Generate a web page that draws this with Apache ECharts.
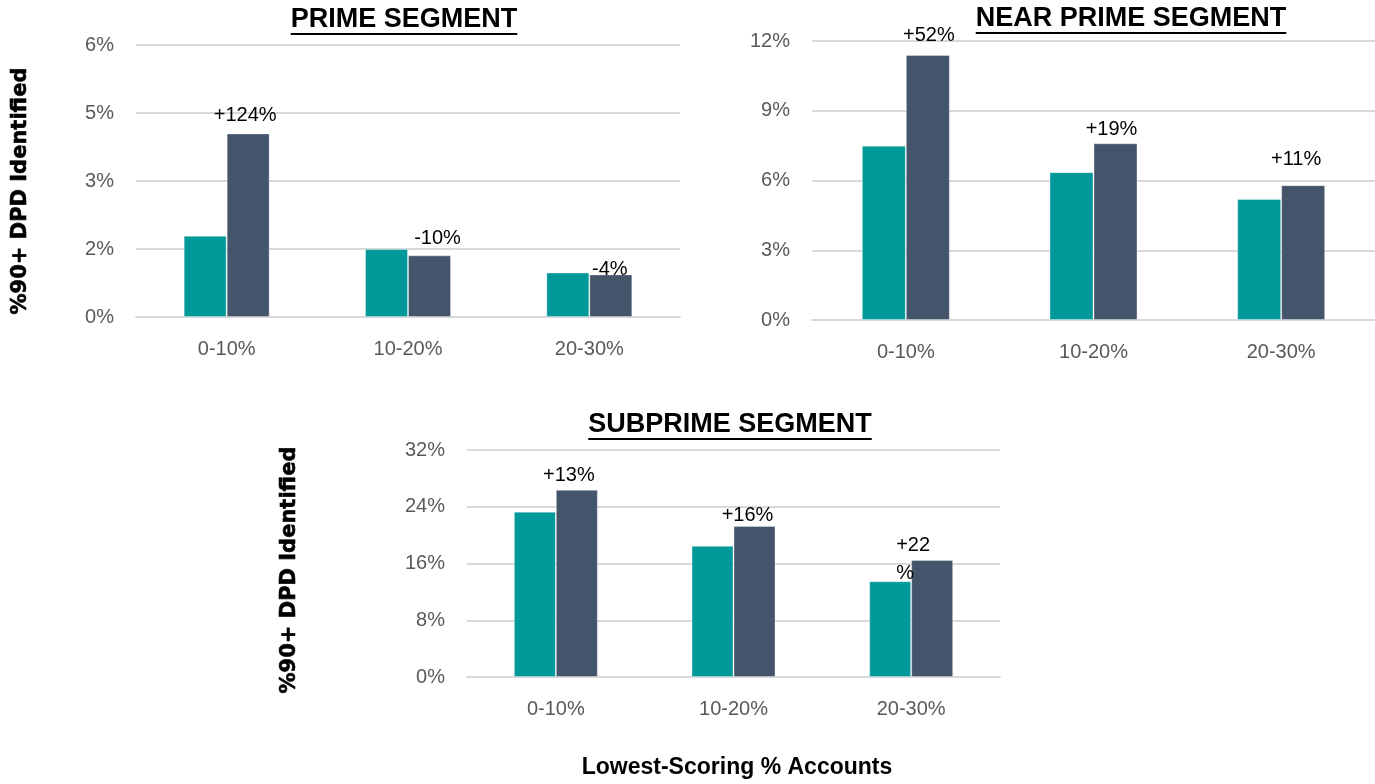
<!DOCTYPE html>
<html>
<head>
<meta charset="utf-8">
<script src="https://cdn.jsdelivr.net/npm/echarts@6/dist/echarts.min.js"></script>
<style>
  html, body { margin: 0; padding: 0; background: #fff; }
  #chart { width: 1375px; height: 784px; }
</style>
</head>
<body>
<div id="chart"></div>
<script>
// categories
var categories = ['0-10%', '10-20%', '20-30%'];

// % of 90+ DPD identified
var primeBase = [1.79, 1.50, 0.98];
var primeModel = [4.05, 1.36, 0.94];
var nearBase = [7.50, 6.36, 5.20];
var nearModel = [11.40, 7.60, 5.80];
var subBase = [23.3, 18.5, 13.5];
var subModel = [26.4, 21.3, 16.5];

// labels over the dark bars
var primeChange = ['+124%', '-10%', '-4%'];
var nearChange = ['+52%', '+19%', '+11%'];
var subChange = ['+13%', '+16%', '+22\n%'];

// tick labels
var primeTicks = ['0%', '2%', '3%', '5%', '6%'];
var nearTicks = ['0%', '3%', '6%', '9%', '12%'];
var subTicks = ['0%', '8%', '16%', '24%', '32%'];

var TEAL = '#009999';
var SLATE = '#44546A';
var GRID = '#D9D9D9';

// label nudges [dx, dy] per chart / category
var labelOffsets = [
  [[-3, -3], [8, -2], [-1, 10]],
  [[1, -4], [-4, 1], [-7, -11]],
  [[-8, 1], [-7, 5], [-36, 33]]
];

var panels = [
  { grid: { left: 136, top: 45, width: 544, height: 272 }, max: 6, interval: 1.5, ticks: primeTicks, base: primeBase, model: primeModel, change: primeChange, barWidth: 43 },
  { grid: { left: 812, top: 41, width: 564, height: 279 }, max: 12, interval: 3, ticks: nearTicks, base: nearBase, model: nearModel, change: nearChange, barWidth: 44 },
  { grid: { left: 467, top: 450, width: 533, height: 227 }, max: 32, interval: 8, ticks: subTicks, base: subBase, model: subModel, change: subChange, barWidth: 42 }
];

var grids = [], xAxes = [], yAxes = [], series = [];
panels.forEach(function (p, i) {
  grids.push(p.grid);
  xAxes.push({
    type: 'category',
    gridIndex: i,
    data: categories,
    axisTick: { show: false },
    axisLine: { lineStyle: { color: GRID, width: 2 } },
    axisLabel: { color: '#595959', fontFamily: 'Liberation Sans', fontSize: 20, margin: 22 }
  });
  yAxes.push({
    type: 'value',
    gridIndex: i,
    min: 0,
    max: p.max,
    interval: p.interval,
    axisLine: { show: false },
    axisTick: { show: false },
    splitLine: { lineStyle: { color: GRID, width: 2 } },
    axisLabel: {
      color: '#595959', fontFamily: 'Liberation Sans', fontSize: 20, margin: 22,
      formatter: function (v, idx) { return p.ticks[idx]; }
    }
  });
  series.push({
    name: 'Baseline',
    type: 'bar',
    xAxisIndex: i,
    yAxisIndex: i,
    barWidth: p.barWidth,
    barGap: '0%',
    itemStyle: { color: TEAL, borderColor: 'rgba(255,255,255,0.35)', borderWidth: 1 },
    data: p.base
  });
  series.push({
    name: 'Model',
    type: 'bar',
    xAxisIndex: i,
    yAxisIndex: i,
    barWidth: p.barWidth,
    barGap: '0%',
    itemStyle: { color: SLATE, borderColor: 'rgba(255,255,255,0.35)', borderWidth: 1 },
    data: p.model.map(function (v, k) {
      var off = labelOffsets[i][k];
      var lab = {
        show: true,
        position: 'top',
        distance: 5,
        offset: off,
        color: '#000',
        fontFamily: 'Liberation Sans',
        fontSize: 20,
        formatter: p.change[k]
      };
      if (p.change[k].indexOf('\n') >= 0) {
        lab.align = 'left';
        lab.lineHeight = 28;
      }
      return { value: v, label: lab };
    })
  });
});

// measure title text so the underline fits
var ctx = document.createElement('canvas').getContext('2d');
function textWidth(t, font) {
  ctx.font = font;
  return ctx.measureText(t).width;
}

var titleFont = 'bold 27px "Liberation Sans"';
var titles = [
  { text: 'PRIME SEGMENT', x: 404, y: 20, uy: 34 },
  { text: 'NEAR PRIME SEGMENT', x: 1131, y: 19, uy: 33 },
  { text: 'SUBPRIME SEGMENT', x: 730, y: 425, uy: 439 }
];

var graphic = [];
titles.forEach(function (t) {
  var w = textWidth(t.text, titleFont);
  graphic.push({
    type: 'text', x: t.x, y: t.y,
    style: { text: t.text, font: titleFont, fill: '#000', align: 'center', verticalAlign: 'middle' }
  });
  graphic.push({
    type: 'line',
    shape: { x1: t.x - w / 2, y1: t.uy, x2: t.x + w / 2, y2: t.uy },
    style: { stroke: '#000', lineWidth: 2 }
  });
});

var axisNameFont = 'bold 21px "DejaVu Sans"';
graphic.push({
  type: 'text', x: 21, y: 191, rotation: Math.PI / 2,
  style: { text: '%90+ DPD Identified', font: axisNameFont, fill: '#000', align: 'center', verticalAlign: 'middle', stroke: '#000', lineWidth: 0.6 }
});
graphic.push({
  type: 'text', x: 290, y: 570, rotation: Math.PI / 2,
  style: { text: '%90+ DPD Identified', font: axisNameFont, fill: '#000', align: 'center', verticalAlign: 'middle', stroke: '#000', lineWidth: 0.6 }
});
graphic.push({
  type: 'text', x: 737, y: 768,
  style: { text: 'Lowest-Scoring % Accounts', font: 'bold 23px "Liberation Sans"', fill: '#000', align: 'center', verticalAlign: 'middle' }
});

var myChart = echarts.init(document.getElementById('chart'));
myChart.setOption({
  animation: false,
  grid: grids,
  xAxis: xAxes,
  yAxis: yAxes,
  series: series,
  graphic: graphic
});
</script>
</body>
</html>
